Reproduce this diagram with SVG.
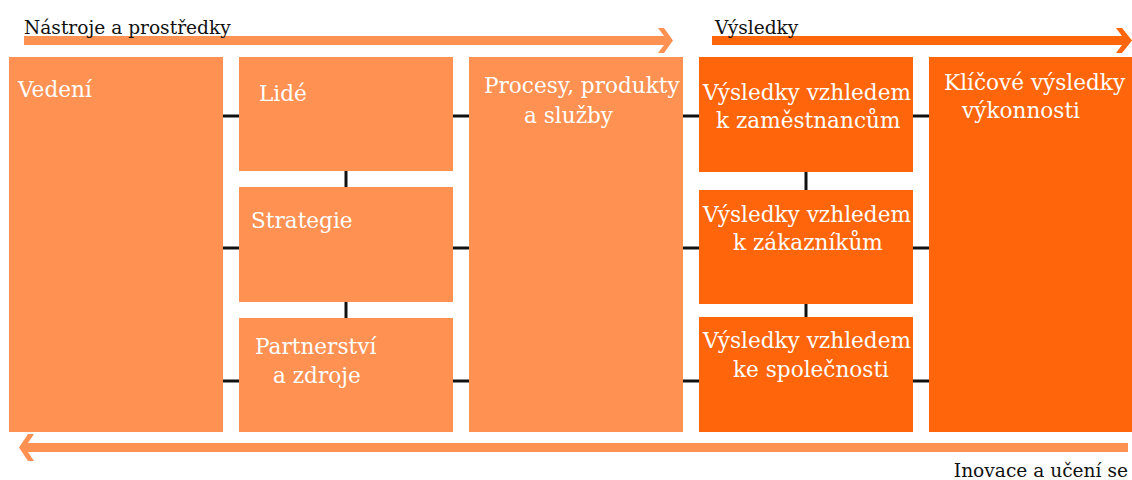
<svg xmlns="http://www.w3.org/2000/svg" width="1132" height="480" viewBox="0 0 1132 480">
<style>
.light{fill:#FF9152}
.dark{fill:#FF650A}
.t{font-family:"DejaVu Serif","Liberation Serif",serif;font-size:21.6px;fill:#ffffff}
.lbl{font-family:"DejaVu Serif","Liberation Serif",serif;font-size:18.6px;fill:#111111}
.c{stroke:#111111;stroke-width:3;fill:none}
</style>
<rect width="1132" height="480" fill="#ffffff"/>
<g id="arrows">
<polygon class="light" points="24,36 664,36 658,28 664,28 673,40.5 664,53 658,53 664,45 24,45"/>
<polygon class="dark" points="712,36 1122,36 1116,28 1122,28 1132,40.5 1122,53 1116,53 1122,45 712,45"/>
<polygon class="light" points="1128,443 28,443 34,434 28,434 19,447.5 28,461 34,461 28,452 1128,452"/>
</g>
<g id="connectors">
<line class="c" x1="223" y1="116" x2="239" y2="116"/>
<line class="c" x1="223" y1="248" x2="239" y2="248"/>
<line class="c" x1="223" y1="381" x2="239" y2="381"/>
<line class="c" x1="453" y1="116" x2="469" y2="116"/>
<line class="c" x1="453" y1="248" x2="469" y2="248"/>
<line class="c" x1="453" y1="381" x2="469" y2="381"/>
<line class="c" x1="683" y1="116" x2="699" y2="116"/>
<line class="c" x1="683" y1="248" x2="699" y2="248"/>
<line class="c" x1="683" y1="381" x2="699" y2="381"/>
<line class="c" x1="913" y1="116" x2="929" y2="116"/>
<line class="c" x1="913" y1="248" x2="929" y2="248"/>
<line class="c" x1="913" y1="381" x2="929" y2="381"/>
<line class="c" x1="346" y1="171" x2="346" y2="187"/>
<line class="c" x1="346" y1="302" x2="346" y2="318"/>
<line class="c" x1="806" y1="172" x2="806" y2="190"/>
<line class="c" x1="806" y1="304" x2="806" y2="317"/>
</g>
<g id="vedeni"><rect class="light" x="9" y="57" width="214" height="375"/><text class="t" x="18" y="97">Vedení</text></g>
<g id="lide"><rect class="light" x="239" y="57" width="214" height="114"/><text class="t" x="259" y="101">Lidé</text></g>
<g id="strategie"><rect class="light" x="239" y="187" width="214" height="115"/><text class="t" x="251" y="228">Strategie</text></g>
<g id="partnerstvi"><rect class="light" x="239" y="318" width="214" height="114"/><text class="t" x="255" y="354">Partnerství</text><text class="t" x="273" y="383">a zdroje</text></g>
<g id="procesy"><rect class="light" x="469" y="57" width="214" height="375"/><text class="t" x="484" y="93">Procesy, produkty</text><text class="t" x="524" y="123">a služby</text></g>
<g id="zamestnanci"><rect class="dark" x="699" y="57" width="214" height="115"/><text class="t" x="703" y="100">Výsledky vzhledem</text><text class="t" x="716" y="128">k zaměstnancům</text></g>
<g id="zakaznici"><rect class="dark" x="699" y="190" width="214" height="114"/><text class="t" x="703" y="222">Výsledky vzhledem</text><text class="t" x="733" y="250">k zákazníkům</text></g>
<g id="spolecnost"><rect class="dark" x="699" y="317" width="214" height="115"/><text class="t" x="703" y="348">Výsledky vzhledem</text><text class="t" x="733" y="377">ke společnosti</text></g>
<g id="klicove"><rect class="dark" x="929" y="57" width="203" height="375"/><text class="t" x="944" y="90">Klíčové výsledky</text><text class="t" x="962" y="118">výkonnosti</text></g>
<g id="labels">
<text class="lbl" x="24" y="34">Nástroje a prostředky</text>
<text class="lbl" x="715" y="34">Výsledky</text>
<text class="lbl" x="1128" y="477" text-anchor="end">Inovace a učení se</text>
</g>
</svg>
